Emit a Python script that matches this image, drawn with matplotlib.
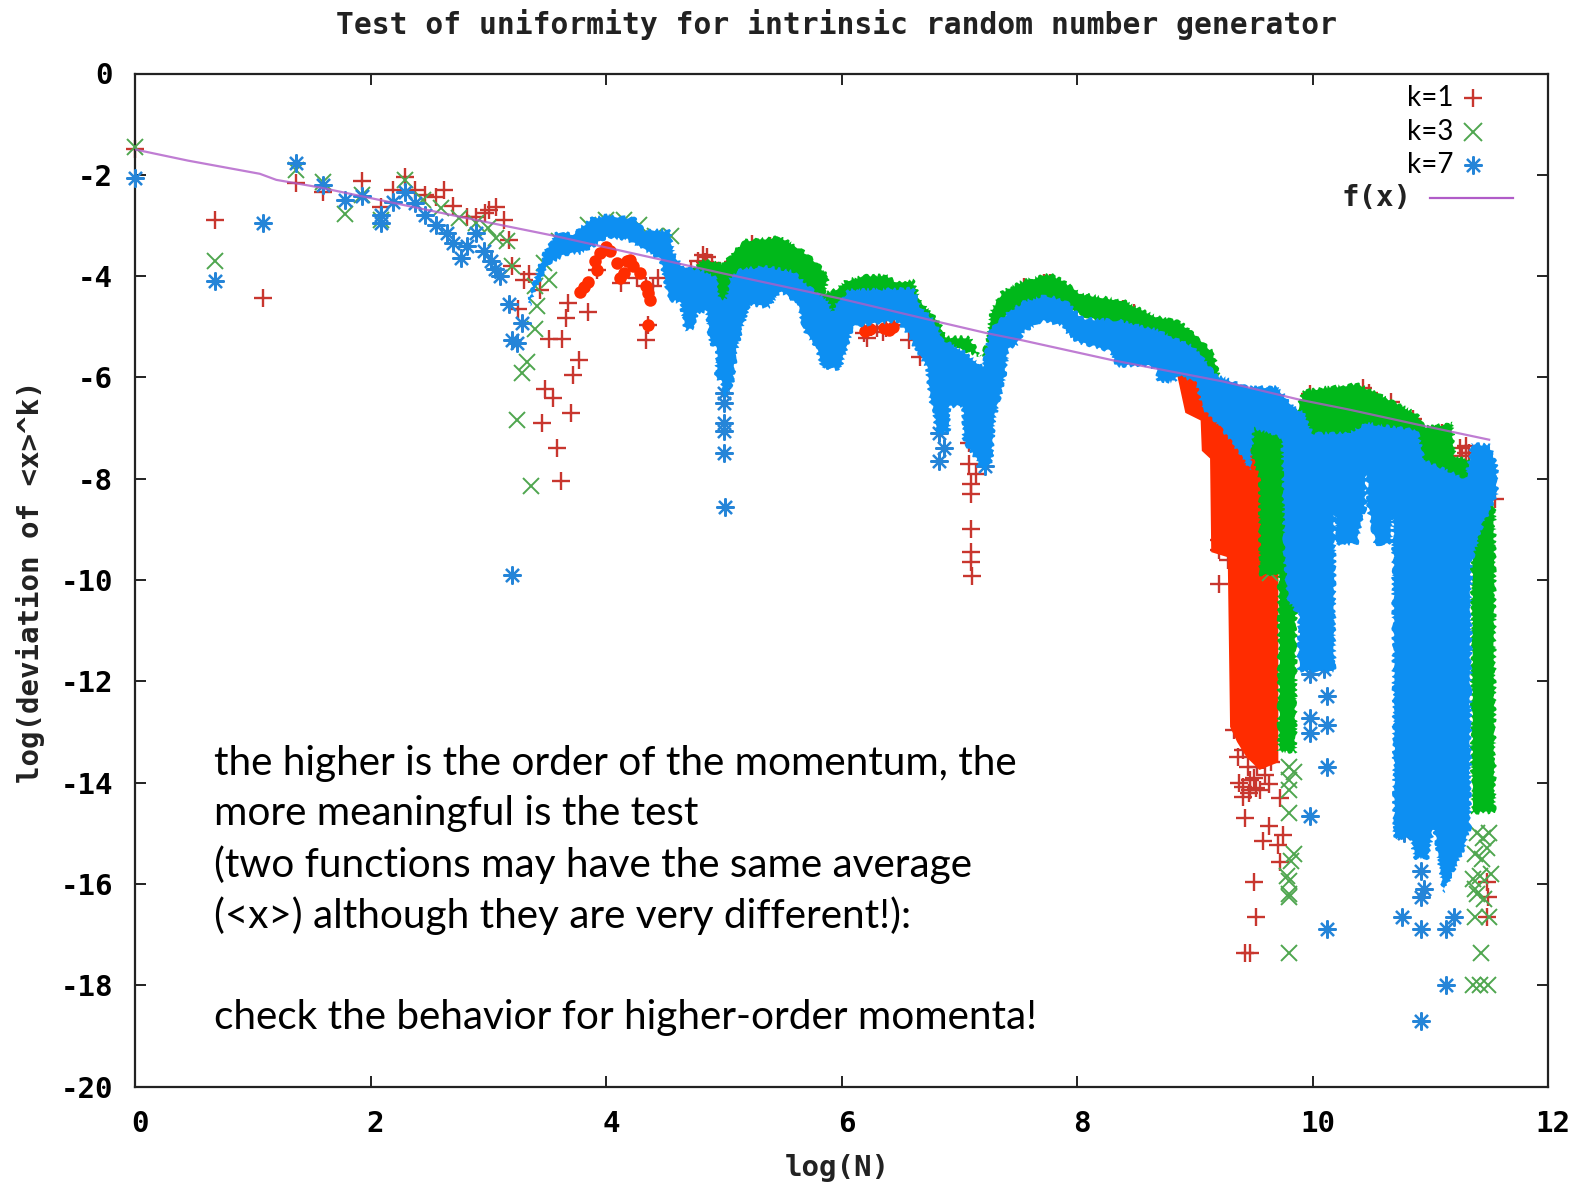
import matplotlib
matplotlib.use('Agg')
import matplotlib.pyplot as plt
from matplotlib.transforms import ScaledTranslation

plt.rcParams['axes.unicode_minus'] = False
mono = 'DejaVu Sans Mono'
note_font = 'Lato'

# envelopes of the dense part of each series
blue_top_x = [3.35, 3.4, 3.47, 3.58, 3.72, 3.87, 4.01, 4.26, 4.32, 4.54, 4.58, 4.65, 4.8, 4.95, 4.96, 5.02, 5.05, 5.15,
              5.37, 5.59, 5.76, 5.89, 5.92, 5.96, 5.99, 6.06, 6.61, 6.67, 6.79, 6.87, 7.03, 7.2, 7.26, 7.4, 7.55, 7.74,
              7.91, 8.05, 8.36, 8.68, 8.99, 9.2, 9.24, 9.44, 9.7, 9.84, 9.92, 10.0, 10.3, 10.46, 10.89, 10.95, 11.3,
              11.35, 11.51, 11.57]
blue_top_y = [-4.41, -4.01, -3.55, -3.12, -3.16, -2.86, -2.79, -2.86, -3.09, -3.09, -3.55, -3.81, -3.88, -4.04, -4.45,
              -4.45, -4.03, -3.85, -3.81, -3.91, -4.27, -4.5, -4.73, -4.5, -4.47, -4.27, -4.24, -4.6, -4.87, -5.26,
              -5.46, -5.79, -5.06, -4.73, -4.5, -4.37, -4.5, -4.83, -4.87, -5.06, -5.39, -5.99, -5.99, -6.18, -6.18,
              -6.58, -6.68, -7.1, -7.1, -6.9, -7.04, -7.63, -8.0, -7.3, -7.33, -7.77]
blue_bot_x = [3.35, 3.4, 3.45, 3.52, 3.66, 3.78, 3.89, 4.0, 4.18, 4.27, 4.46, 4.53, 4.63, 4.67, 4.74, 4.78, 4.85, 4.88,
              4.94, 4.93, 4.98, 5.01, 5.08, 5.12, 5.17, 5.22, 5.38, 5.48, 5.62, 5.69, 5.78, 5.83, 5.99, 6.05, 6.1, 6.47,
              6.56, 6.64, 6.72, 6.75, 6.78, 6.8, 6.92, 6.92, 7.03, 7.03, 7.22, 7.28, 7.3, 7.35, 7.39, 7.42, 7.47, 7.5,
              7.55, 7.71, 7.86, 7.98, 8.28, 8.34, 8.57, 8.68, 8.68, 8.84, 8.85, 9.01, 9.06, 9.13, 9.21, 9.3, 9.47, 9.5,
              9.74, 9.76, 9.79, 9.88, 9.88, 10.19, 10.19, 10.2, 10.38, 10.42, 10.45, 10.46, 10.47, 10.49, 10.53, 10.67,
              10.68, 10.69, 10.83, 10.87, 10.98, 11.03, 11.06, 11.11, 11.29, 11.34, 11.35, 11.45, 11.57]
blue_bot_y = [-4.6, -4.27, -4.07, -3.75, -3.58, -3.55, -3.42, -3.25, -3.28, -3.42, -3.68, -4.47, -4.54, -5.07, -5.07,
              -4.73, -4.7, -5.33, -5.43, -6.0, -6.1, -6.4, -6.1, -5.39, -4.94, -4.57, -4.63, -4.31, -4.54, -5.13, -5.39,
              -5.82, -5.85, -5.39, -5.0, -4.9, -5.13, -5.52, -5.79, -6.45, -6.64, -7.1, -7.1, -6.58, -6.58, -7.24, -7.89,
              -7.63, -6.84, -6.38, -5.99, -5.46, -5.39, -5.33, -5.1, -4.9, -4.97, -5.29, -5.49, -5.79, -5.76, -5.85,
              -6.09, -6.09, -5.95, -6.1, -6.58, -6.78, -6.97, -7.24, -7.83, -7.0, -7.2, -9.55, -10.4, -10.7, -11.8,
              -11.8, -8.72, -9.3, -9.3, -8.8, -8.6, -7.93, -8.6, -8.8, -9.3, -9.3, -8.75, -15.1, -15.1, -15.5, -15.5,
              -14.9, -15.4, -16.2, -15.3, -14.9, -9.67, -8.88, -8.36]

green_top_x = [4.66, 4.75, 4.8, 4.93, 4.98, 5.08, 5.17, 5.48, 5.65, 5.79, 5.89, 5.86, 5.96, 6.04, 6.21, 6.38, 6.47, 6.61,
               6.67, 6.84, 6.88, 7.09, 7.18, 7.23, 7.27, 7.36, 7.55, 7.77, 7.88, 8.03, 8.39, 8.68, 8.88, 9.02, 9.16,
               9.21, 9.5, 9.86, 9.92, 10.38, 10.55, 10.89, 10.95, 11.19, 11.21, 11.34, 11.35, 11.55]
green_top_y = [-4.1, -3.85, -3.7, -3.7, -3.78, -3.52, -3.29, -3.22, -3.45, -3.72, -4.01, -4.34, -4.24, -4.08, -3.98,
               -3.98, -4.11, -4.08, -4.47, -4.93, -5.2, -5.2, -5.59, -5.33, -4.67, -4.31, -4.08, -3.95, -4.08, -4.34,
               -4.47, -4.8, -4.9, -5.2, -5.49, -5.99, -6.5, -6.7, -6.25, -6.12, -6.31, -6.71, -6.97, -6.9, -7.55, -7.65,
               -8.3, -8.5]
green_bot_x = [4.66, 5.0, 5.2, 5.5, 5.9, 5.95, 6.65, 6.8, 7.2, 7.4, 7.75, 8.5, 9.0, 9.35, 9.55, 9.55, 9.71, 9.71, 9.86,
               9.86, 9.9, 10.9, 11.3, 11.35, 11.35, 11.55]
green_bot_y = [-4.2, -4.6, -4.2, -4.0, -4.8, -4.8, -4.6, -5.3, -5.6, -4.8, -4.5, -5.2, -5.8, -6.6, -8.0, -9.9, -9.9,
               -13.4, -13.4, -11.0, -7.6, -8.0, -8.5, -9.0, -14.6, -14.6]

red_top_x = [8.85, 9.1, 9.5, 9.71]
red_top_y = [-5.8, -6.0, -7.3, -8.0]
red_bot_x = [8.85, 8.92, 9.05, 9.06, 9.13, 9.14, 9.28, 9.3, 9.36, 9.44, 9.55, 9.71]
red_bot_y = [-5.95, -6.7, -6.85, -7.45, -7.6, -9.45, -9.55, -12.9, -13.2, -13.5, -13.75, -13.6]

# solid red blobs where k=1 points pile up
blob_x = [3.78, 3.81, 3.85, 3.91, 3.92, 3.95, 4.0, 4.03, 4.09, 4.12, 4.15, 4.18, 4.2, 4.23, 4.29, 4.34, 4.36, 4.37,
          4.36, 6.2, 6.24, 6.36, 6.4, 6.44]
blob_y = [-4.31, -4.21, -4.11, -3.71, -3.88, -3.55, -3.42, -3.5, -3.75, -4.04, -3.94, -3.71, -3.68, -3.81, -3.94, -4.2,
          -4.34, -4.47, -4.97, -5.08, -5.05, -5.02, -5.06, -5.0]

# single points, k=1
k1_x = [0, 0.68, 1.09, 1.37, 1.6, 1.93, 2.09, 2.19, 2.29, 2.38, 2.46, 2.56, 2.62, 2.7, 2.82, 2.9, 2.97, 3.01, 3.07,
        3.13, 3.18, 3.2, 3.3, 3.35, 3.25, 3.44, 3.52, 3.63, 3.68, 3.66, 3.85, 3.77, 3.72, 3.48, 3.55, 3.46, 3.58, 3.7,
        3.62, 3.92, 4.13, 4.26, 4.34, 4.36, 4.34, 4.44, 4.4,
        4.72, 4.78, 4.82, 4.86, 4.9, 4.84, 5.03, 5.08, 5.24, 5.39, 5.46,
        6.19, 6.22, 6.3, 6.38, 6.45, 6.25, 6.35, 6.57, 6.67, 7.08, 7.08, 7.1, 7.1, 7.1, 7.1, 7.1, 7.14, 7.11,
        7.55, 7.72, 7.77, 8.39, 8.48, 9.21, 9.21, 9.21, 9.28, 9.33, 9.37, 9.41, 9.53, 9.41, 9.41, 9.47, 9.55, 9.63,
        9.72, 9.53, 9.58, 9.47, 9.43, 9.63, 9.58, 9.75, 9.71, 9.72, 9.5, 9.52, 9.43, 9.47,
        9.45, 9.5, 9.6, 9.65, 9.38, 9.46, 9.52,
        9.98, 10.17, 10.38, 10.43, 10.48, 10.67, 10.85, 11.1, 11.25, 11.3, 11.3, 11.27, 11.33, 11.48, 11.49, 11.48, 11.55]
k1_y = [-1.5, -2.89, -4.44, -2.17, -2.33, -2.13, -2.63, -2.3, -2.04, -2.3, -2.4, -2.43, -2.3, -2.61, -2.83, -2.83,
        -2.76, -2.69, -2.63, -2.89, -3.29, -3.81, -4.08, -3.95, -4.64, -4.27, -5.24, -5.24, -4.54, -4.83, -4.71, -5.66,
        -5.95, -6.22, -6.4, -6.9, -7.4, -6.7, -8.05, -3.88, -4.14, -4.04, -4.2, -4.97, -5.26, -4.04, -4.2,
        -3.85, -3.7, -3.58, -3.62, -3.75, -3.72, -3.85, -3.72, -3.37, -3.4, -3.4,
        -5.12, -5.23, -5.03, -5.03, -4.97, -5.0, -5.1, -5.26, -5.59, -7.3, -7.7, -8.1, -8.3, -9.0, -9.44, -9.65, -7.9,
        -9.92,
        -4.22, -4.13, -4.13, -4.65, -4.72, -9.21, -9.41, -10.07, -9.6, -12.96, -13.49, -13.36, -13.33, -14.08,
        -14.28, -14.15, -14.15, -14.02, -14.31, -13.69, -13.55, -13.95, -14.7, -14.86, -15.15, -15.03, -15.23, -15.56,
        -15.96, -16.65, -17.36, -17.36,
        -13.7, -13.9, -13.85, -13.6, -14.0, -14.2, -14.1,
        -6.33, -6.39, -6.3, -6.2, -6.3, -6.48, -6.82, -7.1, -7.4, -7.35, -7.5, -7.55, -7.5, -15.96, -16.25, -16.65, -8.4]

# single points, k=3
k3_x = [0, 0.68, 1.37, 1.6, 1.78, 1.93, 2.09, 2.29, 2.45, 2.6, 2.75, 2.9, 3.0, 3.07, 3.16, 3.2, 3.41, 3.4, 3.33, 3.29,
        3.52, 3.24, 3.36, 3.4, 3.47, 3.6, 3.85, 4.0, 4.15, 4.28, 4.42, 4.55,
        9.64, 9.8, 9.84, 9.82, 9.78, 9.8, 9.8, 9.8, 9.8, 9.8, 9.84, 9.8, 9.8,
        11.43, 11.42, 11.49, 11.36, 11.38, 11.4, 11.45, 11.5, 11.38, 11.44, 11.48, 11.36, 11.42, 11.52, 11.4, 11.46,
        11.38, 11.5]
k3_y = [-1.45, -3.71, -1.9, -2.15, -2.78, -2.4, -2.9, -2.1, -2.5, -2.65, -2.85, -2.95, -3.05, -3.25, -3.3, -3.8, -4.6,
        -5.05, -5.69, -5.92, -4.08, -6.84, -8.15, -4.2, -3.75, -3.3, -3.0, -2.9, -2.9, -3.0, -3.2, -3.2,
        -9.87, -14.6, -15.4, -15.55, -15.85, -15.95, -16.25,
        -16.2, -13.7, -13.95, -13.8, -14.15, -17.36,
        -17.36, -18.0, -18.0, -18.0, -16.65, -15.0, -15.1, -15.0, -15.4, -15.5, -15.3, -15.9, -15.85, -15.8, -16.2,
        -16.3, -16.1, -16.65]

# single points, k=7
k7_x = [0, 0.68, 1.09, 1.37, 1.6, 1.78, 1.93, 2.09, 2.09, 2.19, 2.29, 2.38, 2.46, 2.56, 2.65, 2.7, 2.77, 2.82, 2.9,
        2.96, 3.02, 3.06, 3.1, 3.18, 3.2, 3.24, 3.29, 3.2, 5.01, 5.0, 5.0, 5.0, 5.0, 5.0, 6.83, 6.83, 6.87, 7.22,
        9.95, 9.98, 10.05, 9.98, 10.1, 9.98, 10.12, 10.12, 9.98, 10.12, 9.98, 10.12, 10.76, 10.92, 10.92, 10.95, 10.92,
        10.78, 10.78, 11.13, 11.2, 11.13, 10.92]
k7_y = [-2.07, -4.1, -2.95, -1.77, -2.2, -2.5, -2.42, -2.8, -2.95, -2.53, -2.33, -2.55, -2.8, -3.0, -3.15, -3.35, -3.65,
        -3.4, -3.15, -3.5, -3.7, -3.85, -4.0, -4.55, -5.26, -5.33, -4.93, -9.9, -8.55, -7.5, -7.05, -6.9, -6.5, -6.3,
        -7.1, -7.65, -7.4, -7.75,
        -11.0, -11.3, -11.3, -11.85, -11.75, -12.73, -12.3, -12.86, -13.03, -13.7, -14.65, -16.9, -16.65, -16.9, -16.25,
        -16.1, -15.75, -14.6, -15.0, -16.9, -16.65, -18.0, -18.7]

# f(x) line
fx_x = [0, 0.45, 1.06, 1.2, 1.57, 2.7, 3.55, 5.0, 6.0, 6.87, 7.24, 7.52, 8.3, 9.24, 9.89, 10.3, 10.89, 11.5]
fx_y = [-1.5, -1.72, -1.98, -2.1, -2.25, -2.8, -3.2, -3.95, -4.45, -4.93, -5.13, -5.26, -5.66, -6.08, -6.44, -6.63,
        -6.93, -7.23]

x_ticks = [0, 2, 4, 6, 8, 10, 12]
y_ticks = [0, -2, -4, -6, -8, -10, -12, -14, -16, -18, -20]

note_lines = ['the higher is the order of the momentum, the',
              'more meaningful is the test',
              '(two functions may have the same average',
              '(<x>) although they are very different!):',
              'check the behavior for higher-order momenta!']
note_y = [-13.62, -14.61, -15.63, -16.63, -18.63]

red = '#ff2c00'
green = '#00b81a'
blue = '#0d8ff2'
red_m = '#c8362e'
green_m = '#4fa64f'
blue_m = '#2585d8'
star = (8, 2, 0)
jag = (1.6, 10, 6)  # rough edge, the real band is built from overlapping markers

fig = plt.figure(figsize=(15.79, 11.85), dpi=100)
ax = fig.add_axes([135 / 1579, 1 - 1086.5 / 1185, 1413 / 1579, 1013 / 1185])

# red first, blue last, same order as the plot commands in gnuplot
ax.plot(k1_x, k1_y, ls='none', marker='+', ms=13, mew=1.7, color=red_m, zorder=2, clip_on=False)
ax.plot(blob_x, blob_y, ls='none', marker='o', ms=9, mew=0, color=red, zorder=2)
ax.fill(red_top_x + red_bot_x[::-1], red_top_y + red_bot_y[::-1], color=red, lw=0, zorder=2)
ax.plot(k3_x, k3_y, ls='none', marker='x', ms=12, mew=1.4, color=green_m, zorder=3, clip_on=False)
for p in ax.fill(green_top_x + green_bot_x[::-1], green_top_y + green_bot_y[::-1], color=green, lw=0, zorder=3):
    p.set_sketch_params(*jag)
ax.plot(k7_x, k7_y, ls='none', marker=star, ms=13, mew=1.6, color=blue_m, zorder=4, clip_on=False)
for p in ax.fill(blue_top_x + blue_bot_x[::-1], blue_top_y + blue_bot_y[::-1], color=blue, lw=0, zorder=4):
    p.set_sketch_params(*jag)
ax.plot(fx_x, fx_y, color='#b05cc8', lw=1.6, alpha=0.8, zorder=5)

ax.set_xlim(0, 12)
ax.set_ylim(-20, 0)
ax.set_xticks(x_ticks)
ax.set_yticks(y_ticks)
ax.set_xticklabels([str(t) for t in x_ticks], family=mono, weight='bold', fontsize=21)
ax.set_yticklabels([str(t) for t in y_ticks], family=mono, weight='bold', fontsize=21)
ax.tick_params(direction='in', top=True, right=True, length=8, width=1.4, color='#222222')
ax.tick_params(axis='y', pad=16)
ax.tick_params(axis='x', pad=17)
# x labels sit a little right of their ticks in the original
shift = ScaledTranslation(5 / 100, 0, fig.dpi_scale_trans)
for t in ax.get_xticklabels():
    t.set_transform(t.get_transform() + shift)
for s in ax.spines.values():
    s.set_linewidth(1.6)
    s.set_color('#222222')

fig.text(0.5295, 0.9795, 'Test of uniformity for intrinsic random number generator', family=mono, weight='bold',
         fontsize=21.3, ha='center', va='center', color='#222222')
fig.text(0.53, 0.0145, 'log(N)', family=mono, weight='bold', fontsize=21, ha='center', va='center', color='#222222')
fig.text(0.0195, 0.509, 'log(deviation of <x>^k)', family=mono, weight='bold', fontsize=21, rotation=90, ha='center',
         va='center', color='#222222')

for line, y in zip(note_lines, note_y):
    ax.text(0.667, y, line, family=note_font, fontsize=29.2, va='center', ha='left', color='black', zorder=6)

# key, top right
for label, py, mk, c, w in [('k=1', 97, '+', red_m, 1.7), ('k=3', 131, 'x', green_m, 1.4), ('k=7', 164, star, blue_m, 1.6)]:
    y = -(py - 73) / 50.3
    ax.text(11.2, y, label, family=note_font, fontsize=20, ha='right', va='center', color='black', zorder=6)
    ax.plot([11.36], [y], ls='none', marker=mk, ms=13, mew=w, color=c, zorder=6)
ax.text(10.84, -2.45, 'f(x)', family=mono, weight='bold', fontsize=21, ha='right', va='center', color='#222222')
ax.plot([11.0, 11.7], [-2.45, -2.45], color='#b05cc8', lw=1.6, zorder=6)

fig.savefig('out.png', dpi=100)
